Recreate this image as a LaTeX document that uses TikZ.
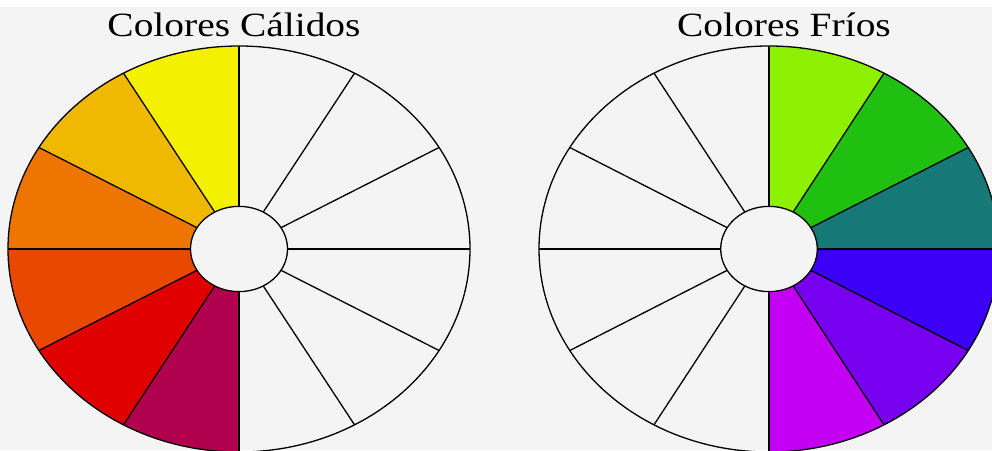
\documentclass[tikz,border=0pt]{standalone}
\usepackage{fontspec}
\setmainfont{Liberation Serif}
\usepackage{tikz}
\usetikzlibrary{positioning}

\definecolor{bggray}{HTML}{F4F4F4}
\definecolor{warmA}{HTML}{F3F000}
\definecolor{warmB}{HTML}{F0B800}
\definecolor{warmC}{HTML}{EE7600}
\definecolor{warmD}{HTML}{E84800}
\definecolor{warmE}{HTML}{E00000}
\definecolor{warmF}{HTML}{B0004E}
\definecolor{coolA}{HTML}{8CF000}
\definecolor{coolB}{HTML}{20C010}
\definecolor{coolC}{HTML}{177878}
\definecolor{coolD}{HTML}{3C00F8}
\definecolor{coolE}{HTML}{7800F0}
\definecolor{coolF}{HTML}{C400F4}

\begin{document}
\begin{tikzpicture}[x=1pt, y=1pt,
  sector/.style={draw=black, line width=1.3pt, line join=round},
  spoke/.style={draw=black, line width=1.3pt},
  title/.style={font=\fontsize{34}{38}\selectfont, xscale=1.16, anchor=base, inner sep=0pt}
]
\useasboundingbox (0,0) rectangle (992,450);
\clip (0,0) rectangle (992,450);
\fill[white] (0,0) rectangle (992,450);
\fill[bggray] (0,0) rectangle (992,443);

% warm wheel
\begin{scope}[shift={(239,201)}, xscale=231, yscale=203]
  \foreach \a/\c in {90/warmA,120/warmB,150/warmC,180/warmD,210/warmE,240/warmF}
    \path[fill=\c] (\a:0.21) -- (\a:1) arc[start angle=\a, end angle=\a+30, radius=1]
      -- (\a+30:0.21) arc[start angle=\a+30, end angle=\a, radius=0.21] -- cycle;
  \draw[sector] (0,0) circle[radius=1];
  \foreach \a in {0,30,...,330}
    \draw[spoke] (\a:0.21) -- (\a:1);
  \filldraw[sector, fill=bggray] (0,0) circle[radius=0.21];
\end{scope}

% cool wheel
\begin{scope}[shift={(769,201)}, xscale=230, yscale=203]
  \foreach \a/\c in {60/coolA,30/coolB,0/coolC,-30/coolD,-60/coolE,-90/coolF}
    \path[fill=\c] (\a:0.21) -- (\a:1) arc[start angle=\a, end angle=\a+30, radius=1]
      -- (\a+30:0.21) arc[start angle=\a+30, end angle=\a, radius=0.21] -- cycle;
  \draw[sector] (0,0) circle[radius=1];
  \foreach \a in {0,30,...,330}
    \draw[spoke] (\a:0.21) -- (\a:1);
  \filldraw[sector, fill=bggray] (0,0) circle[radius=0.21];
\end{scope}

\node[title] (warm) at (234,413) {Colores Cálidos};
\node[title] (cool) at (784,413) {Colores Fríos};
\end{tikzpicture}
\end{document}
